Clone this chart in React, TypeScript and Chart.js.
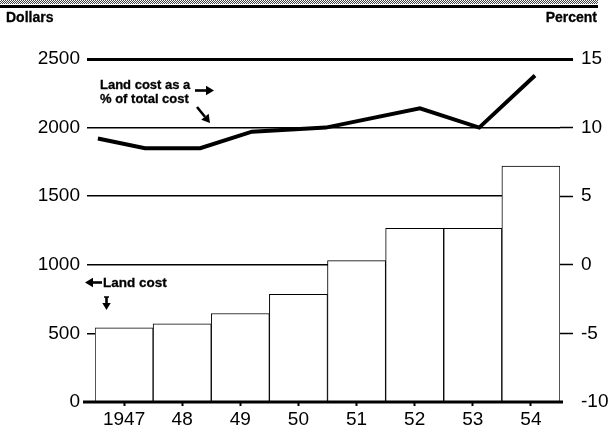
import React, { useEffect, useRef } from "react";
import { Chart, registerables } from "chart.js";

Chart.register(...registerables);

// ---- data ----
const years = ["1947", "48", "49", "50", "51", "52", "53", "54"];
const landCost = [540, 570, 645, 785, 1030, 1265, 1265, 1720];
// x positions (in year units) and values of the "land cost as % of total cost" line
const pctX = [1946.55, 1947.36, 1948.31, 1949.2, 1950.47, 1952.09, 1953.11, 1954.07];
const pctValues = [9.2, 8.5, 8.5, 9.7, 10.0, 11.4, 10.0, 13.8];
const dollarTicks = [0, 500, 1000, 1500, 2000, 2500];
const percentTicks = [-10, -5, 0, 5, 10, 15];

const FONT = '"Liberation Sans", Arial, Helvetica, sans-serif';

const baselinePlugin = {
  id: "baseline",
  afterDatasetsDraw(chart: any) {
    const { ctx, chartArea: a } = chart;
    ctx.save();
    ctx.strokeStyle = "#000";
    ctx.lineWidth = 3;
    ctx.beginPath();
    ctx.moveTo(a.left - 12, a.bottom);
    ctx.lineTo(a.right + 3, a.bottom);
    ctx.stroke();
    ctx.restore();
  },
};

function Arrow({ x1, y1, x2, y2, head = 7, w = 2.6 }: any) {
  const ang = Math.atan2(y2 - y1, x2 - x1);
  const bx = x2 - Math.cos(ang) * head;
  const by = y2 - Math.sin(ang) * head;
  const px = Math.cos(ang + Math.PI / 2) * head * 0.6;
  const py = Math.sin(ang + Math.PI / 2) * head * 0.6;
  return (
    <g>
      <line x1={x1} y1={y1} x2={bx} y2={by} stroke="#000" strokeWidth={w} />
      <polygon points={`${x2},${y2} ${bx + px},${by + py} ${bx - px},${by - py}`} fill="#000" />
    </g>
  );
}

export default function App() {
  const ref = useRef<HTMLCanvasElement | null>(null);

  useEffect(() => {
    if (!ref.current) return;
    const chart = new Chart(ref.current, {
      type: "bar",
      data: {
        labels: years,
        datasets: [
          {
            type: "bar",
            data: landCost,
            backgroundColor: "#fff",
            borderColor: "#000",
            borderWidth: 1,
            borderSkipped: "bottom",
            barPercentage: 1,
            categoryPercentage: 1,
            grouped: false,
            xAxisID: "x",
            yAxisID: "y",
            order: 2,
          } as any,
          {
            type: "line",
            data: pctX.map((x, i) => ({ x, y: pctValues[i] })),
            xAxisID: "xl",
            yAxisID: "y1",
            borderColor: "#000",
            borderWidth: 4,
            pointRadius: 0,
            tension: 0,
            fill: false,
            order: 1,
          } as any,
        ],
      },
      options: {
        responsive: false,
        animation: false,
        layout: { padding: { top: 59, left: 0, right: 0, bottom: 0 } },
        plugins: { legend: { display: false }, tooltip: { enabled: false } },
        scales: {
          x: {
            type: "category",
            offset: true,
            grid: {
              offset: false,
              drawOnChartArea: false,
              drawTicks: true,
              tickLength: 4,
              tickWidth: 2,
              tickColor: "#000",
            },
            border: { display: false },
            ticks: { color: "#000", font: { family: FONT, size: 19 }, padding: 2, maxRotation: 0, autoSkip: false },
            afterFit: (s: any) => {
              s.height = 32;
            },
          },
          xl: {
            type: "linear",
            display: false,
            offset: false,
            grid: { offset: false },
            min: 1946.5,
            max: 1954.5,
            bounds: "data",
          },
          y: {
            position: "left",
            min: 0,
            max: 2500,
            afterBuildTicks: (s: any) => {
              s.ticks = dollarTicks.map((v) => ({ value: v }));
            },
            ticks: { color: "#000", font: { family: FONT, size: 19 }, padding: 7, callback: (v: any) => String(v) },
            grid: {
              color: (c: any) => (c.tick && c.tick.value >= 1000 ? "#000" : "rgba(0,0,0,0)"),
              lineWidth: (c: any) => (c.tick && c.tick.value === 2500 ? 3 : 1.5),
              tickLength: 8,
              tickColor: "#000",
              tickWidth: (c: any) => (c.tick && c.tick.value === 2500 ? 3 : 1.5),
            },
            border: { display: false },
            afterFit: (s: any) => {
              s.width = 95;
            },
          },
          y1: {
            position: "right",
            min: -10,
            max: 15,
            afterBuildTicks: (s: any) => {
              s.ticks = percentTicks.map((v) => ({ value: v }));
            },
            ticks: { color: "#000", font: { family: FONT, size: 19 }, padding: 8, callback: (v: any) => String(v) },
            grid: {
              drawOnChartArea: false,
              tickLength: 13,
              tickColor: (c: any) => (c.tick && c.tick.value === -10 ? "rgba(0,0,0,0)" : "#000"),
              tickWidth: (c: any) => (c.tick && c.tick.value === 15 ? 3 : 1.5),
            },
            border: { display: false },
            afterFit: (s: any) => {
              s.width = 52;
            },
          },
        } as any,
      },
      plugins: [baselinePlugin],
    });
    return () => chart.destroy();
  }, []);

  const label: React.CSSProperties = {
    position: "absolute",
    fontFamily: FONT,
    fontWeight: 700,
    color: "#000",
    whiteSpace: "nowrap",
    WebkitTextStroke: "0.3px #000",
  };

  return (
    <div style={{ position: "fixed", left: 0, top: 0, width: 612, height: 434, background: "#fff", overflow: "hidden" }}>
      <div
        style={{
          position: "absolute",
          left: 0,
          top: 0,
          width: 598,
          height: 4,
          backgroundImage: "repeating-conic-gradient(#444 0 25%, #fff 0 50%)",
          backgroundSize: "2px 2px",
        }}
      />
      <div style={{ position: "absolute", left: 0, top: 5, width: 598, height: 3, background: "#000" }} />
      <canvas ref={ref} width={612} height={434} style={{ position: "absolute", left: 0, top: 0 }} />
      <div style={{ ...label, left: 6, top: 9, fontSize: 14, lineHeight: "16px" }}>Dollars</div>
      <div style={{ ...label, right: 15, top: 9, fontSize: 14, lineHeight: "16px" }}>Percent</div>
      <div style={{ ...label, left: 100, top: 77.8, fontSize: 13, lineHeight: "14px" }}>
        Land cost as a
        <br />% of total cost
      </div>
      <div style={{ ...label, left: 103, top: 274.5, fontSize: 13.5, lineHeight: "15px" }}>Land cost</div>
      <svg width={612} height={434} style={{ position: "absolute", left: 0, top: 0, pointerEvents: "none" }}>
        <Arrow x1={195} y1={90.5} x2={214} y2={90.5} head={8} />
        <Arrow x1={197} y1={107} x2={210} y2={123} head={8} />
        <Arrow x1={102} y1={282.5} x2={85} y2={282.5} head={8} />
        <Arrow x1={106.5} y1={297} x2={106.5} y2={310} head={7} />
        <line x1={104} y1={297} x2={109} y2={297} stroke="#000" strokeWidth={1.5} />
      </svg>
    </div>
  );
}
